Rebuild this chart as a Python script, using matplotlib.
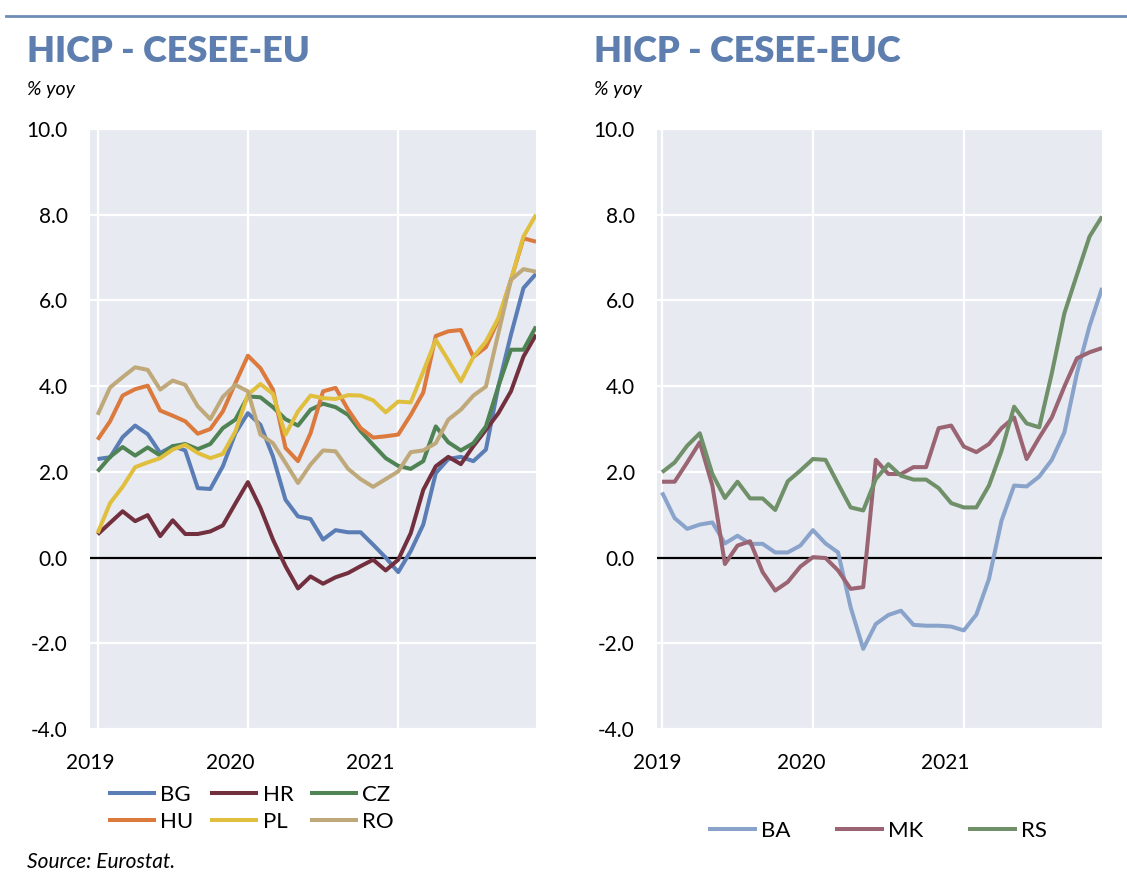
import matplotlib
matplotlib.use("Agg")
import matplotlib.pyplot as plt
from matplotlib.lines import Line2D

# monthly HICP, % yoy, Jan 2019 - Dec 2021
months = list(range(36))

BG = [2.30, 2.34, 2.81, 3.08, 2.88, 2.44, 2.60, 2.50, 1.62, 1.60, 2.13, 2.90,
      3.37, 3.10, 2.36, 1.35, 0.96, 0.90, 0.42, 0.64, 0.59, 0.59, 0.30, 0.00,
      -0.34, 0.15, 0.77, 1.97, 2.30, 2.35, 2.25, 2.52, 4.00, 5.20, 6.29, 6.62]
HR = [0.54, 0.81, 1.08, 0.85, 0.99, 0.50, 0.87, 0.55, 0.55, 0.61, 0.75, 1.26,
      1.76, 1.16, 0.42, -0.20, -0.72, -0.44, -0.61, -0.46, -0.36, -0.20, -0.05, -0.30,
      -0.05, 0.57, 1.58, 2.13, 2.35, 2.18, 2.60, 2.98, 3.37, 3.88, 4.69, 5.20]
CZ = [2.01, 2.35, 2.58, 2.38, 2.57, 2.38, 2.60, 2.65, 2.53, 2.65, 3.02, 3.22,
      3.76, 3.74, 3.51, 3.23, 3.08, 3.45, 3.59, 3.51, 3.33, 2.95, 2.63, 2.32,
      2.14, 2.07, 2.25, 3.06, 2.69, 2.50, 2.67, 3.06, 4.00, 4.85, 4.85, 5.39]
HU = [2.75, 3.18, 3.78, 3.93, 4.01, 3.43, 3.31, 3.18, 2.89, 3.00, 3.41, 4.07,
      4.71, 4.42, 3.92, 2.56, 2.25, 2.90, 3.88, 3.96, 3.45, 3.02, 2.80, 2.83,
      2.87, 3.33, 3.85, 5.17, 5.28, 5.31, 4.68, 4.91, 5.55, 6.48, 7.45, 7.37]
PL = [0.57, 1.27, 1.65, 2.11, 2.22, 2.32, 2.52, 2.63, 2.44, 2.32, 2.42, 2.94,
      3.80, 4.05, 3.82, 2.87, 3.41, 3.78, 3.72, 3.70, 3.79, 3.78, 3.67, 3.39,
      3.64, 3.62, 4.34, 5.08, 4.60, 4.11, 4.68, 5.04, 5.59, 6.48, 7.49, 8.00]
RO = [3.33, 3.97, 4.21, 4.44, 4.38, 3.92, 4.13, 4.03, 3.53, 3.23, 3.75, 4.03,
      3.88, 2.87, 2.67, 2.21, 1.74, 2.17, 2.50, 2.48, 2.07, 1.83, 1.65, 1.83,
      2.01, 2.46, 2.50, 2.67, 3.22, 3.45, 3.78, 3.99, 5.24, 6.48, 6.73, 6.67]

BA = [1.52, 0.92, 0.67, 0.77, 0.82, 0.33, 0.51, 0.32, 0.32, 0.12, 0.12, 0.28,
      0.64, 0.33, 0.12, -1.16, -2.13, -1.55, -1.34, -1.24, -1.57, -1.59, -1.59, -1.61,
      -1.70, -1.33, -0.50, 0.86, 1.68, 1.66, 1.89, 2.28, 2.92, 4.30, 5.40, 6.29]
MK = [1.77, 1.77, 2.22, 2.69, 1.68, -0.15, 0.28, 0.38, -0.34, -0.77, -0.57, -0.21,
      0.01, -0.01, -0.30, -0.73, -0.69, 2.28, 1.95, 1.95, 2.11, 2.11, 3.02, 3.08,
      2.59, 2.46, 2.65, 3.02, 3.27, 2.30, 2.80, 3.27, 3.99, 4.65, 4.79, 4.89]
RS = [1.99, 2.22, 2.61, 2.90, 1.95, 1.39, 1.77, 1.38, 1.38, 1.11, 1.78, 2.03,
      2.30, 2.28, 1.72, 1.17, 1.10, 1.83, 2.18, 1.91, 1.82, 1.82, 1.62, 1.27,
      1.17, 1.17, 1.68, 2.49, 3.52, 3.13, 3.04, 4.30, 5.70, 6.60, 7.49, 7.96]

left_names = ["BG", "HR", "CZ", "HU", "PL", "RO"]
left_series = [BG, HR, CZ, HU, PL, RO]
left_colors = ["#5b7db5", "#72303f", "#4f8354", "#dc7a3e", "#e0bf3f", "#bfa97a"]

right_names = ["BA", "MK", "RS"]
right_series = [BA, MK, RS]
right_colors = ["#8aa3cb", "#9a6472", "#6f9068"]

years = ["2019", "2020", "2021"]
yticks = [-4, -2, 0, 2, 4, 6, 8, 10]

FONT = "Lato"
TITLE_COL = "#5d7eae"
BG_COL = "#e7eaf1"


def style_axes(ax, year_pos):
    ax.set_facecolor(BG_COL)
    for s in ax.spines.values():
        s.set_visible(False)
    ax.set_xlim(0, 35)
    ax.set_ylim(-4, 10)
    ax.set_yticks(yticks)
    ax.set_yticklabels(["%.1f" % v for v in yticks], fontfamily=FONT, fontsize=15)
    ax.set_xticks([0, 12, 24])
    ax.set_xticklabels([])
    ax.set_xticks(year_pos, minor=True)
    ax.set_xticklabels(years, minor=True, fontfamily=FONT, fontsize=15)
    ax.tick_params(axis="both", which="both", length=0)
    ax.tick_params(axis="y", pad=16)
    ax.tick_params(axis="x", which="minor", pad=17)
    ax.grid(True, which="major", color="white", lw=1.6)
    ax.set_axisbelow(True)
    ax.axhline(0, color="black", lw=1.6, zorder=2)


fig = plt.figure(figsize=(11.27, 8.86), dpi=100)

# top rule
fig.add_artist(Line2D([0.005, 1.0], [0.982, 0.982], transform=fig.transFigure,
                      color="#6d8cb8", lw=2))

ax1 = fig.add_axes([0.0799, 0.1772, 0.3957, 0.6772])
ax2 = fig.add_axes([0.583, 0.1772, 0.3949, 0.6772])

style_axes(ax1, [-0.6, 10.6, 21.8])
style_axes(ax2, [-0.4, 11.1, 22.5])

for name, vals, c in zip(left_names, left_series, left_colors):
    ax1.plot(months, vals, color=c, lw=2.9, label=name, solid_capstyle="butt", zorder=3)
for name, vals, c in zip(right_names, right_series, right_colors):
    ax2.plot(months, vals, color=c, lw=2.9, label=name, solid_capstyle="butt", zorder=3)

fig.text(0.024, 1 - 51 / 886, "HICP - CESEE-EU", fontfamily=FONT, fontweight="heavy",
         fontsize=26, color=TITLE_COL, va="center")
fig.text(0.527, 1 - 51 / 886, "HICP - CESEE-EUC", fontfamily=FONT, fontweight="heavy",
         fontsize=26, color=TITLE_COL, va="center")
fig.text(0.024, 1 - 89 / 886, "% yoy", fontfamily=FONT, style="italic", fontsize=14, va="center")
fig.text(0.527, 1 - 89 / 886, "% yoy", fontfamily=FONT, style="italic", fontsize=14, va="center")
fig.text(0.024, 1 - 862 / 886, "Source: Eurostat.", fontfamily=FONT, style="italic",
         fontsize=15, va="center")

# legend rows read BG HR CZ / HU PL RO; matplotlib fills by column
h1, l1 = ax1.get_legend_handles_labels()
order = [0, 3, 1, 4, 2, 5]
fig.legend([h1[i] for i in order], [l1[i] for i in order], loc="upper left",
           bbox_to_anchor=(0.096, 0.114), ncol=3, frameon=False,
           prop={"family": FONT, "size": 16}, handlelength=2.15, handletextpad=0.2,
           columnspacing=0.75, labelspacing=0.3, borderpad=0, borderaxespad=0)

h2, l2 = ax2.get_legend_handles_labels()
fig.legend(h2, l2, loc="center left", bbox_to_anchor=(0.628, 0.062), ncol=3, frameon=False,
           prop={"family": FONT, "size": 16}, handlelength=2.2, handletextpad=0.2,
           columnspacing=2.0, borderpad=0, borderaxespad=0)

fig.savefig("out.png", dpi=100)
